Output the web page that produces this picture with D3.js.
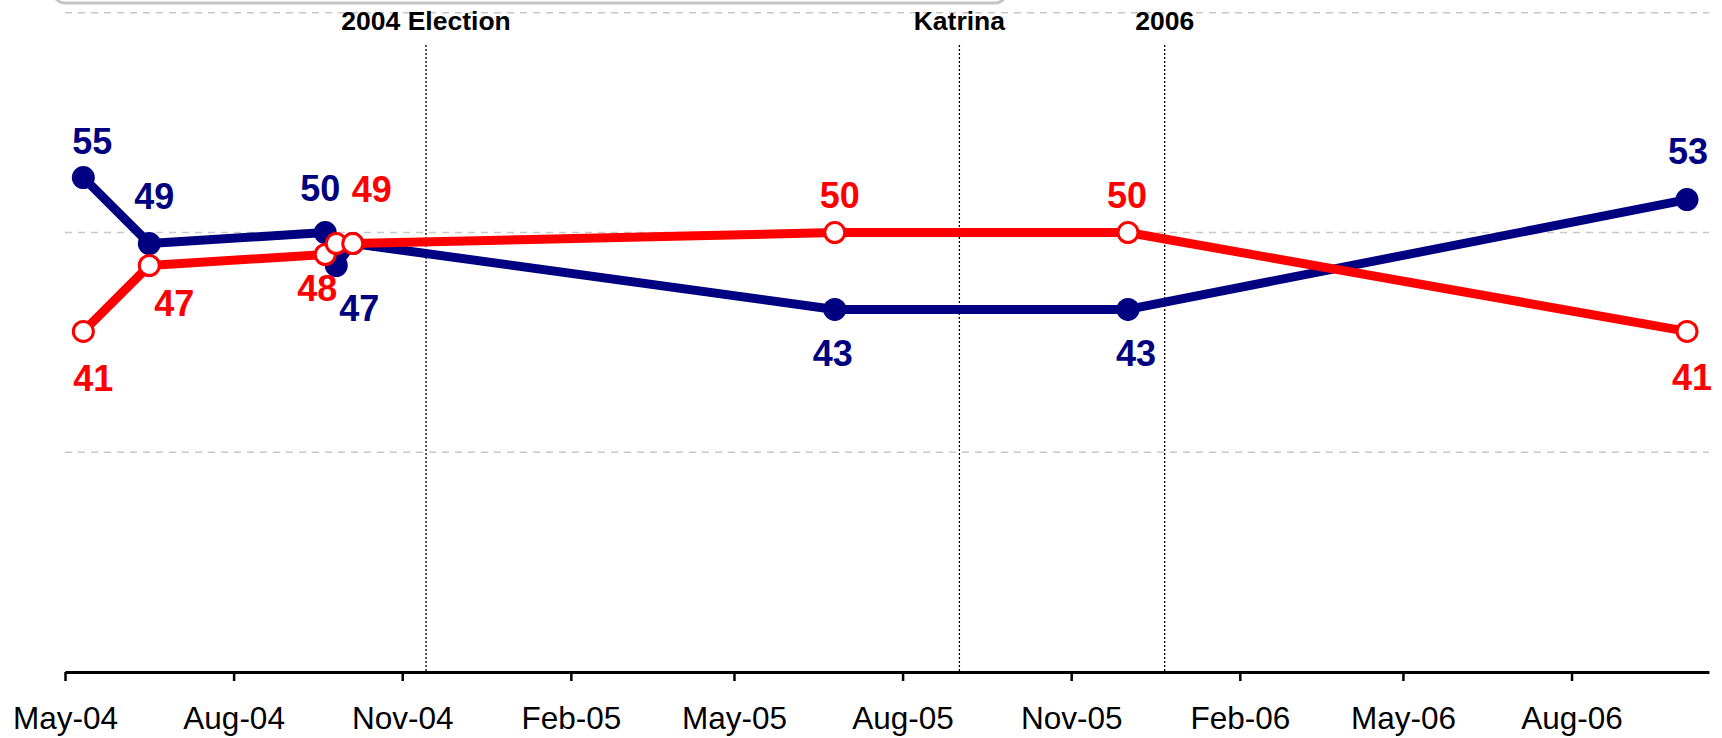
<!DOCTYPE html>
<html>
<head>
<meta charset="utf-8">
<script src="https://cdn.jsdelivr.net/npm/d3@7"></script>
<style>
  body { margin: 0; background: #fff; }
  svg { display: block; font-family: "Liberation Sans", Arial, sans-serif; }
</style>
</head>
<body>
<svg id="chart" width="1722" height="738"></svg>
<script>
// poll dates (shared by both series)
var pollDates = ["2004-05-11", "2004-06-16", "2004-09-20", "2004-09-26", "2004-10-05", "2005-06-25", "2005-12-02", "2006-10-03"];
var blueValues = [55, 49, 50, 47, 49, 43, 43, 53];
var redValues = [41, 47, 48, 49, 49, 50, 50, 41];
var blueShowLabel = [true, true, true, true, false, true, true, true];
var redShowLabel = [true, true, true, false, true, true, true, true];

var tickLabels = ["May-04", "Aug-04", "Nov-04", "Feb-05", "May-05", "Aug-05", "Nov-05", "Feb-06", "May-06", "Aug-06"];
var gridValues = [30, 50, 70];

var eventNames = ["2004 Election", "Katrina", "2006"];
var eventDates = ["2004-11-14", "2005-09-01", "2005-12-22"];

// label nudges (layout only), [dx, dy] from the marker
var blueLabelOffsets = [[9, -24], [5, -35], [-5, -32], [23, 56], [0, 0], [-2, 57], [8, 57], [1, -36]];
var redLabelOffsets = [[10, 60], [25, 51], [-8, 46], [0, 0], [19, -42], [5, -25], [-1, -25], [5, 59]];

var blue = "#000080";
var red = "#ff0000";

var parseDay = d3.utcParse("%Y-%m-%d");
var parseTick = d3.utcParse("%b-%y");
var fmt = d3.utcFormat("%b-%y");

var svg = d3.select("#chart");

var x = d3.scaleUtc()
	.domain([parseDay("2004-05-01"), parseDay("2006-10-15")])
	.range([65, 1709]);

var y = d3.scaleLinear()
	.domain([10, 70])
	.range([672, 12.8]);

// gray box edge at the very top
svg.append("rect")
	.attr("x", 53).attr("y", -30)
	.attr("width", 954).attr("height", 33)
	.attr("rx", 12)
	.attr("fill", "#fff")
	.attr("stroke", "#c4c4c4")
	.attr("stroke-width", 3);

// gridlines
svg.append("g").selectAll("line")
	.data(gridValues)
	.enter().append("line")
	.attr("x1", x.range()[0])
	.attr("x2", x.range()[1])
	.attr("y1", function(d) { return y(d); })
	.attr("y2", function(d) { return y(d); })
	.attr("stroke", "#c8c8c8")
	.attr("stroke-width", 1.5)
	.attr("stroke-dasharray", "7,6");

// event markers
var events = eventNames.map(function(n, i) { return { name: n, date: parseDay(eventDates[i]) }; });
var ev = svg.append("g").selectAll("g")
	.data(events)
	.enter().append("g");
ev.append("line")
	.attr("x1", function(d) { return x(d.date); })
	.attr("x2", function(d) { return x(d.date); })
	.attr("y1", 45)
	.attr("y2", y(10))
	.attr("stroke", "#000")
	.attr("stroke-width", 1.3)
	.attr("stroke-dasharray", "2,2");
ev.append("text")
	.attr("x", function(d) { return x(d.date); })
	.attr("y", 30)
	.attr("text-anchor", "middle")
	.attr("font-size", 26.5)
	.attr("font-weight", "bold")
	.attr("fill", "#000")
	.text(function(d) { return d.name; });

// x axis
var xAxis = d3.axisBottom(x)
	.tickValues(tickLabels.map(function(t) { return parseTick(t); }))
	.tickFormat(fmt)
	.tickSize(9)
	.tickSizeOuter(0)
	.tickPadding(26);

var axisG = svg.append("g")
	.attr("transform", "translate(0," + y(10) + ")")
	.call(xAxis);
axisG.select(".domain").attr("stroke", "#000").attr("stroke-width", 3);
axisG.selectAll(".tick line").attr("stroke", "#000").attr("stroke-width", 2.5);
axisG.selectAll(".tick text")
	.attr("font-size", 31.5)
	.attr("font-family", "Liberation Sans, Arial, sans-serif")
	.attr("fill", "#000");

// series
function makeSeries(values, show, offsets) {
	return values.map(function(v, i) {
		return { date: parseDay(pollDates[i]), v: v, show: show[i], off: offsets[i] };
	});
}
var blueData = makeSeries(blueValues, blueShowLabel, blueLabelOffsets);
var redData = makeSeries(redValues, redShowLabel, redLabelOffsets);

var line = d3.line()
	.x(function(d) { return x(d.date); })
	.y(function(d) { return y(d.v); });

function drawSeries(data, color, hollow) {
	var g = svg.append("g");
	g.append("path")
		.datum(data)
		.attr("d", line)
		.attr("fill", "none")
		.attr("stroke", color)
		.attr("stroke-width", 9)
		.attr("stroke-linejoin", "round");
	g.selectAll("circle")
		.data(data)
		.enter().append("circle")
		.attr("cx", function(d) { return x(d.date); })
		.attr("cy", function(d) { return y(d.v); })
		.attr("r", hollow ? 10 : 11.5)
		.attr("fill", hollow ? "#fff" : color)
		.attr("stroke", hollow ? color : "none")
		.attr("stroke-width", 3);
	return g;
}

function drawLabels(data, color) {
	svg.append("g").selectAll("text")
		.data(data.filter(function(d) { return d.show; }))
		.enter().append("text")
		.attr("x", function(d) { return x(d.date) + d.off[0]; })
		.attr("y", function(d) { return y(d.v) + d.off[1]; })
		.attr("text-anchor", "middle")
		.attr("font-size", 36)
		.attr("font-weight", "bold")
		.attr("fill", color)
		.text(function(d) { return d.v; });
}

drawSeries(blueData, blue, false);
drawSeries(redData, red, true);
drawLabels(blueData, blue);
drawLabels(redData, red);
</script>
</body>
</html>
